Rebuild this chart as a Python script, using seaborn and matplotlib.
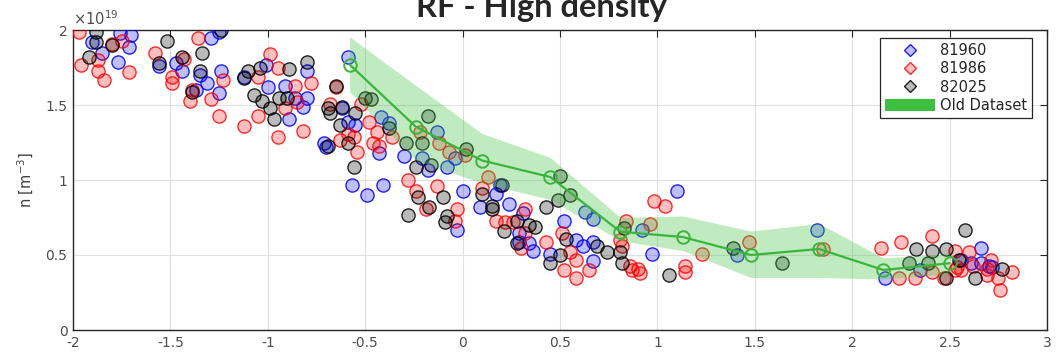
import matplotlib
matplotlib.use("Agg")
import matplotlib.pyplot as plt
from matplotlib.lines import Line2D
from matplotlib.patches import Patch
import numpy as np
import pandas as pd
import seaborn as sns

# Density profiles (x position, n in units of 1e19 m^-3) for three shots
shot_81960 = [(-1.90, 1.92), (-1.85, 1.85), (-1.76, 1.98), (-1.70, 1.97), (-1.71, 1.89), (-1.77, 1.79),
              (-1.56, 1.76), (-1.47, 1.78), (-1.44, 1.73), (-1.35, 1.70), (-1.31, 1.65), (-1.29, 1.95),
              (-1.25, 1.99), (-1.24, 1.73), (-1.25, 1.58), (-1.37, 1.60), (-1.12, 1.69), (-1.01, 1.77),
              (-1.00, 1.62), (-0.91, 1.63), (-0.89, 1.41), (-0.80, 1.73), (-0.80, 1.55), (-0.82, 1.49),
              (-0.86, 1.55), (-0.71, 1.25), (-0.70, 1.22), (-0.59, 1.82), (-0.62, 1.48), (-0.59, 1.39),
              (-0.55, 1.37), (-0.43, 1.18), (-0.57, 0.97), (-0.49, 0.90), (-0.41, 0.97), (-0.42, 1.42),
              (-0.38, 1.38), (-0.30, 1.16), (-0.21, 1.15), (-0.13, 1.32), (-0.08, 1.09), (-0.04, 1.15),
              (-0.03, 0.67), (-0.18, 1.07), (0.19, 0.97), (0.00, 0.93), (0.17, 0.91), (0.09, 0.82),
              (0.24, 0.84), (0.31, 0.78), (0.29, 0.65), (0.29, 0.59), (0.34, 0.58), (0.36, 0.53),
              (0.52, 0.73), (0.58, 0.60), (0.63, 0.79), (0.67, 0.74), (0.62, 0.56), (0.67, 0.59),
              (0.67, 0.46), (0.45, 0.51), (0.92, 0.67), (0.97, 0.51), (1.10, 0.93), (1.41, 0.50),
              (1.82, 0.67), (2.66, 0.55), (2.35, 0.40), (2.17, 0.35), (2.61, 0.45), (2.66, 0.45),
              (2.70, 0.43), (2.56, 0.47), (2.72, 0.42)]

shot_81986 = [(-1.97, 1.99), (-1.96, 1.77), (-1.87, 1.80), (-1.87, 1.73), (-1.84, 1.67), (-1.80, 1.91),
              (-1.75, 1.93), (-1.71, 1.72), (-1.58, 1.85), (-1.49, 1.69), (-1.49, 1.65), (-1.36, 1.95),
              (-1.40, 1.53), (-1.29, 1.54), (-1.25, 1.43), (-1.23, 1.67), (-1.43, 1.81), (-1.39, 1.60),
              (-1.12, 1.36), (-1.05, 1.69), (-1.05, 1.43), (-0.99, 1.84), (-0.95, 1.75), (-0.95, 1.29),
              (-0.91, 1.48), (-0.86, 1.63), (-0.85, 1.52), (-0.82, 1.33), (-0.78, 1.65), (-0.68, 1.51),
              (-0.65, 1.62), (-0.63, 1.27), (-0.59, 1.31), (-0.56, 1.29), (-0.54, 1.19), (-0.48, 1.39),
              (-0.44, 1.32), (-0.46, 1.25), (-0.43, 1.23), (-0.36, 1.29), (-0.52, 1.51), (-0.28, 1.00),
              (-0.24, 0.93), (-0.13, 0.96), (-0.19, 0.81), (-0.03, 0.81), (-0.22, 1.32), (-0.07, 1.19),
              (0.01, 1.17), (0.13, 1.02), (0.10, 0.95), (-0.04, 0.73), (0.32, 0.81), (0.17, 0.73),
              (0.22, 0.72), (0.26, 0.72), (0.32, 0.65), (0.30, 0.55), (0.51, 0.65), (0.43, 0.59),
              (0.55, 0.52), (0.58, 0.47), (0.65, 0.40), (0.52, 0.40), (0.58, 0.35), (0.82, 0.56),
              (0.84, 0.73), (0.96, 0.71), (0.81, 0.60), (0.86, 0.43), (0.87, 0.40), (0.90, 0.41),
              (0.91, 0.38), (0.98, 0.86), (1.04, 0.83), (1.14, 0.43), (1.14, 0.39), (1.23, 0.51),
              (1.47, 0.59), (1.85, 0.54), (2.15, 0.55), (2.25, 0.59), (2.41, 0.63), (2.53, 0.53),
              (2.60, 0.52), (2.24, 0.35), (2.32, 0.35), (2.41, 0.39), (2.47, 0.35), (2.53, 0.40),
              (2.56, 0.40), (2.69, 0.41), (2.71, 0.47), (2.69, 0.37), (2.75, 0.35), (2.82, 0.39),
              (2.76, 0.27), (2.54, 0.42), (2.62, 0.43), (-0.12, 1.25)]

shot_82025 = [(-1.88, 1.99), (-1.92, 1.82), (-1.88, 1.92), (-1.80, 1.90), (-1.52, 1.93), (-1.56, 1.78),
              (-1.44, 1.82), (-1.34, 1.85), (-1.35, 1.73), (-1.39, 1.59), (-1.24, 2.00), (-1.10, 1.73),
              (-1.12, 1.68), (-1.07, 1.57), (-1.03, 1.53), (-0.99, 1.48), (-0.97, 1.41), (-1.04, 1.75),
              (-0.89, 1.74), (-0.90, 1.55), (-0.80, 1.79), (-0.94, 1.55), (-0.69, 1.48), (-0.68, 1.45),
              (-0.62, 1.49), (-0.65, 1.63), (-0.69, 1.23), (-0.63, 1.37), (-0.59, 1.25), (-0.56, 1.09),
              (-0.55, 1.45), (-0.50, 1.55), (-0.47, 1.54), (-0.38, 1.35), (-0.29, 1.25), (-0.21, 1.25),
              (-0.18, 1.43), (-0.24, 1.09), (-0.16, 1.10), (-0.23, 0.89), (-0.17, 0.82), (-0.28, 0.77),
              (-0.10, 0.89), (-0.08, 0.76), (-0.09, 0.72), (0.02, 1.21), (0.10, 0.91), (0.15, 0.83),
              (0.15, 0.81), (0.20, 0.97), (0.21, 0.66), (0.28, 0.73), (0.34, 0.70), (0.37, 0.69),
              (0.28, 0.58), (0.43, 0.82), (0.50, 1.03), (0.49, 0.87), (0.55, 0.90), (0.53, 0.61),
              (0.50, 0.50), (0.45, 0.45), (0.69, 0.56), (0.74, 0.52), (0.81, 0.52), (0.82, 0.45),
              (0.83, 0.68), (1.06, 0.37), (1.39, 0.55), (1.64, 0.45), (2.58, 0.67), (2.33, 0.54),
              (2.41, 0.53), (2.48, 0.54), (2.29, 0.45), (2.39, 0.45), (2.48, 0.35), (2.55, 0.47),
              (2.63, 0.35), (2.77, 0.41)]

shot_labels = ["81960", "81986", "82025"]

# Reference ("Old Dataset") mean profile with its spread
old_x = [-0.58, -0.24, 0.10, 0.45, 0.81, 1.13, 1.48, 1.83, 2.16, 2.50]
old_mean = [1.77, 1.355, 1.13, 1.02, 0.655, 0.62, 0.50, 0.54, 0.40, 0.445]
old_upper = [1.955, 1.63, 1.31, 1.15, 0.75, 0.76, 0.66, 0.71, 0.48, 0.51]
old_lower = [1.59, 1.13, 0.98, 0.87, 0.595, 0.53, 0.35, 0.35, 0.34, 0.375]

x_ticks = [-2, -1.5, -1, -0.5, 0, 0.5, 1, 1.5, 2, 2.5, 3]
y_ticks = [0, 0.5, 1, 1.5, 2]

sns.set_style("white")
plt.rcParams["font.family"] = ["DejaVu Sans"]
plt.rcParams["axes.unicode_minus"] = False

fig = plt.figure(figsize=(10.59, 3.56), dpi=100)
ax = fig.add_axes([73 / 1059, 1 - 330 / 356, 974 / 1059, 300 / 356])

styles = {
    "81960": dict(face=(0.0, 0.0, 1.0, 0.25), edge=(0.0, 0.0, 0.9, 0.85)),
    "81986": dict(face=(1.0, 0.0, 0.0, 0.25), edge=(0.95, 0.0, 0.0, 0.8)),
    "82025": dict(face=(0.0, 0.0, 0.0, 0.27), edge=(0.0, 0.0, 0.0, 0.85)),
}

frames = []
for lab, pts in zip(shot_labels, [shot_81960, shot_81986, shot_82025]):
    arr = np.array(pts)
    frames.append(pd.DataFrame({"x": arr[:, 0], "n": arr[:, 1], "shot": lab}))
data = pd.concat(frames, ignore_index=True)

for lab in shot_labels:
    sub = data[data["shot"] == lab]
    sns.scatterplot(data=sub, x="x", y="n", ax=ax, s=90, marker="o",
                    color=styles[lab]["face"], edgecolor=styles[lab]["edge"],
                    linewidth=1.0, legend=False, zorder=3)

green = "#3cb43c"
ax.fill_between(old_x, old_lower, old_upper, color=(0.25, 0.76, 0.25), alpha=0.33,
                linewidth=0, zorder=4)
old_df = pd.DataFrame({"x": old_x, "n": old_mean})
sns.lineplot(data=old_df, x="x", y="n", ax=ax, color=green, linewidth=1.6,
             marker="o", markersize=9, markerfacecolor="none",
             markeredgecolor=green, markeredgewidth=1.4, sort=False,
             estimator=None, zorder=5)

ax.set_xlim(-2, 3)
ax.set_ylim(0, 2)
ax.set_xticks(x_ticks)
ax.set_xticklabels([f"{t:g}" for t in x_ticks])
ax.set_yticks(y_ticks)
ax.set_yticklabels([f"{t:g}" for t in y_ticks])
ax.set_xlabel("")
ax.set_ylabel("n [m$^{-3}$]", fontsize=10.5, color="#404040", labelpad=7)

ax.grid(True, color="#e0e0e0", linewidth=0.8, zorder=0)
ax.set_axisbelow(True)
for side in ["left", "right", "top", "bottom"]:
    ax.spines[side].set_visible(True)
    ax.spines[side].set_color("#262626")
    ax.spines[side].set_linewidth(1.0)
ax.tick_params(axis="both", which="both", direction="in", length=5, width=0.8,
               top=True, right=True, labelsize=10, labelcolor="#4d4d4d",
               color="#262626", pad=4)

fig.text(73 / 1059, 1 - 25 / 356, r"$\times10^{19}$", fontsize=10.5,
         color="#4d4d4d", ha="left", va="baseline")

# Title sits partly above the top edge of the canvas
fig.text(541 / 1059, 1 - 17 / 356, "RF - High density", fontsize=23.5,
         fontweight="bold", family=["Lato", "DejaVu Sans"], ha="center", va="baseline")

handles = [
    Line2D([], [], linestyle="none", marker="D", markersize=5.7,
           markerfacecolor=styles["81960"]["face"], markeredgecolor=styles["81960"]["edge"]),
    Line2D([], [], linestyle="none", marker="D", markersize=5.7,
           markerfacecolor=styles["81986"]["face"], markeredgecolor=styles["81986"]["edge"]),
    Line2D([], [], linestyle="none", marker="D", markersize=5.7,
           markerfacecolor=styles["82025"]["face"], markeredgecolor=styles["82025"]["edge"]),
    Patch(facecolor="#3fbf3f", edgecolor="none"),
]
leg = ax.legend(handles, shot_labels + ["Old Dataset"], loc="upper right",
                bbox_to_anchor=(0.985, 0.973), fontsize=10.5, frameon=True,
                fancybox=False, framealpha=1, edgecolor="#262626",
                handlelength=3.45, handleheight=0.9, handletextpad=0.35,
                borderpad=0.35, labelspacing=0.22, borderaxespad=0)
leg.get_frame().set_linewidth(0.9)

fig.savefig("out.png", dpi=100)
